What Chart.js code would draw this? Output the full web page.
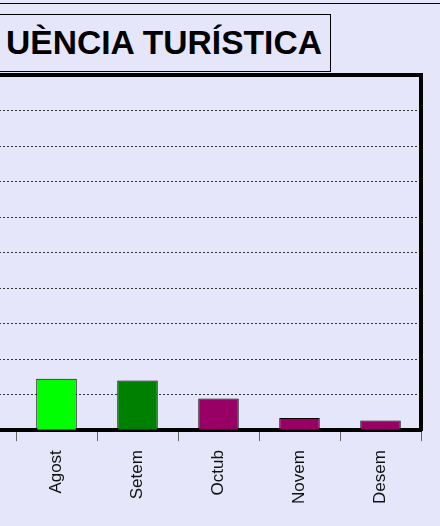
<!DOCTYPE html>
<html lang="ca">
<head>
<meta charset="UTF-8" />
<title>Afluència turística</title>
<script src="https://cdn.jsdelivr.net/npm/chart.js@4.4.0/dist/chart.umd.min.js"></script>
<style>
*{box-sizing:border-box}
html,body{margin:0;padding:0}
body{width:440px;height:526px;overflow:hidden;background:#e6e6fa;position:relative;
  font-family:"Liberation Sans",Arial,sans-serif}
#topLine{position:absolute;left:0;top:3px;width:440px;border-top:1px solid #000}
#title{position:absolute;left:0;top:14px;width:331px;height:58px;border:1px solid #000;border-left:none;
  font-weight:bold;font-size:33.6px;line-height:56px;padding-left:6px;color:#000;white-space:nowrap;overflow:hidden}
#chartBox{position:absolute;left:-80px;top:0;width:520px;height:526px}
</style>
</head>
<body>
<div id="topLine"></div>
<div id="title">UÈNCIA TURÍSTICA</div>
<div id="chartBox"><canvas id="c" width="520" height="526"></canvas></div>

<script>
/* ---------- dades ---------- */
// la primera categoria (buida) és el tros de gràfic retallat a l'esquerra
const MONTHS = ['', 'Agost', 'Setem', 'Octub', 'Novem', 'Desem'];
const VISITS = [null, 1.45, 1.40, 0.89, 0.34, 0.27];
const BAR_COLORS = ['#990066', '#00ff00', '#008000', '#990066', '#990066', '#990066'];
const Y_MIN = 0, Y_MAX = 10, Y_STEP = 1;

/* ---------- gràfic ---------- */
new Chart(document.getElementById('c'), {
  type: 'bar',
  data: {
    labels: MONTHS,
    datasets: [{
      data: VISITS,
      backgroundColor: BAR_COLORS,
      borderColor: '#000',
      borderWidth: 1,
      barPercentage: 0.5,
      categoryPercentage: 1
    }]
  },
  options: {
    responsive: false,
    animation: false,
    layout: {padding: {left: 15, right: 19, top: 67, bottom: 13}},
    plugins: {legend: {display: false}, tooltip: {enabled: false}},
    scales: {
      x: {
        position: 'bottom', z: 1,
        grid: {drawOnChartArea: false, drawTicks: true, tickLength: 11,
               tickColor: '#666', tickWidth: 1, offset: true},
        border: {display: true, width: 4, color: '#000'},
        ticks: {minRotation: 90, maxRotation: 90, autoSkip: false, padding: 9,
                color: '#111', font: {family: '"Liberation Sans", Arial', size: 17}}
      },
      xTop: {
        type: 'category', position: 'top',
        grid: {display: false},
        border: {display: true, width: 4, color: '#000'},
        ticks: {display: false}
      },
      y: {
        position: 'right', min: Y_MIN, max: Y_MAX,
        ticks: {stepSize: Y_STEP, display: false},
        grid: {drawTicks: false, lineWidth: 1,
               color: c => (c.tick.value === Y_MIN || c.tick.value === Y_MAX) ? 'rgba(0,0,0,0)' : '#333'},
        border: {display: true, width: 4, color: '#000', dash: [2, 2]}
      }
    }
  }
});
</script>
</body>
</html>
